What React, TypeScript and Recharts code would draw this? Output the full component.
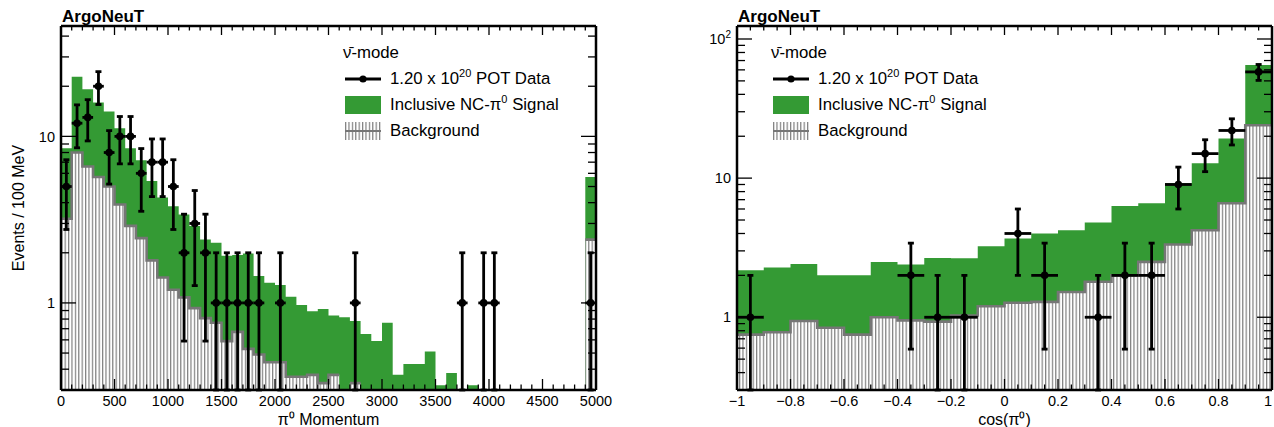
import React from "react";
import { ComposedChart, Area, Scatter, ErrorBar, XAxis, YAxis, Legend, Label } from "recharts";

const FONT = '"Liberation Sans", Arial, Helvetica, sans-serif';
const GREEN = "#349a34";
const BG_LINE = "#767676";
const HATCH = "#7e7e7e";

// pi0 momentum: 100 MeV bins, 0 - 5000 MeV (last bin holds the overflow)
const MOM_BIN = 100;
const MOM_TOTAL = [
  8.5, 22.8, 19.2, 16.0, 14.1, 11.2, 8.5, 7.2, 5.4, 4.3,
  3.8, 3.4, 2.9, 2.4, 2.3, 1.92, 1.94, 1.98, 1.45, 1.32,
  1.28, 1.09, 0.97, 0.89, 0.92, 0.84, 0.82, 0.78, 0.65, 0.59,
  0.76, 0.37, 0.43, 0.43, 0.51, 0.32, 0.38, null, 0.32, null,
  null, null, null, null, null, null, null, null, null, 5.7,
];
const MOM_BG = [
  3.2, 8.0, 6.6, 5.7, 5.0, 3.9, 2.9, 2.45, 1.8, 1.42,
  1.2, 1.08, 0.93, 0.81, 0.76, 0.59, 0.67, 0.53, 0.49, 0.44,
  0.44, 0.36, 0.36, 0.37, 0.33, 0.37, null, 0.33, null, null,
  null, null, null, null, null, null, null, null, null, null,
  null, null, null, null, null, null, null, null, null, 2.4,
];
const MOM_DATA_X = [50, 150, 250, 350, 450, 550, 650, 750, 850, 950, 1050, 1150, 1250, 1350, 1450, 1550, 1650, 1750, 1850, 2050, 2750, 3750, 3950, 4050, 4950];
const MOM_DATA_N = [5, 12, 13, 20, 8, 10, 10, 6, 7, 7, 5, 2, 3, 2, 1, 1, 1, 1, 1, 1, 1, 1, 1, 1, 1];
const MOM_ERR_HI = [2.24, 3.46, 3.61, 4.47, 2.83, 3.16, 3.16, 2.45, 2.65, 2.65, 2.24, 1.41, 1.73, 1.41, 1, 1, 1, 1, 1, 1, 1, 1, 1, 1, 1];
const MOM_ERR_LO = [2.24, 3.46, 3.61, 4.47, 2.83, 3.16, 3.16, 2.45, 2.65, 2.65, 2.24, 1.41, 1.73, 1.41, 0.7, 0.7, 0.7, 0.7, 0.7, 0.7, 0.7, 0.7, 0.7, 0.7, 0.7];
const MOM_MAJOR = [0, 500, 1000, 1500, 2000, 2500, 3000, 3500, 4000, 4500, 5000];
const MOM_LABELS = ["0", "500", "1000", "1500", "2000", "2500", "3000", "3500", "4000", "4500", "5000"];

// cos(pi0): 0.1 bins, -1 to 1
const COS_BIN = 0.1;
const COS_TOTAL = [2.18, 2.28, 2.41, 2.0, 2.0, 2.5, 2.39, 2.67, 2.65, 3.24, 3.68, 4.0, 4.22, 4.8, 6.3, 6.6, 9.2, 12.8, 19.3, 65];
const COS_BG = [0.75, 0.78, 0.94, 0.84, 0.75, 1.0, 0.95, 0.93, 1.03, 1.2, 1.27, 1.29, 1.52, 1.8, 2.0, 2.5, 3.33, 4.22, 6.6, 24];
const COS_DATA_X = [-0.95, -0.35, -0.25, -0.15, 0.05, 0.15, 0.35, 0.45, 0.55, 0.65, 0.75, 0.85, 0.95];
const COS_DATA_N = [1, 2, 1, 1, 4, 2, 1, 2, 2, 9, 15, 22, 58];
const COS_ERR_HI = [1, 1.41, 1, 1, 2, 1.41, 1, 1.41, 1.41, 3, 3.87, 4.69, 7.6];
const COS_ERR_LO = [0.7, 1.41, 0.7, 0.7, 2, 1.41, 0.7, 1.41, 1.41, 3, 3.87, 4.69, 7.6];
const COS_MAJOR = [-1, -0.8, -0.6, -0.4, -0.2, 0, 0.2, 0.4, 0.6, 0.8, 1];
const COS_LABELS = ["\u22121", "\u22120.8", "\u22120.6", "\u22120.4", "\u22120.2", "0", "0.2", "0.4", "0.6", "0.8", "1"];

const LOG_TICKS_L = [0.4, 0.5, 0.6, 0.7, 0.8, 0.9, 1, 2, 3, 4, 5, 6, 7, 8, 9, 10, 20, 30, 40];
const LOG_TICKS_R = [0.4, 0.5, 0.6, 0.7, 0.8, 0.9, 1, 2, 3, 4, 5, 6, 7, 8, 9, 10, 20, 30, 40, 50, 60, 70, 80, 90, 100];

const CHART_W = 637;
const CHART_H = 427;

type Row = { x: number; total: number | null; bg: number | null };

function histRows(start: number, width: number, total: (number | null)[], bg: (number | null)[]): Row[] {
  const rows: Row[] = [];
  total.forEach((t, i) => {
    const lo = Math.round((start + i * width) * 1000) / 1000;
    const hi = Math.round((start + (i + 1) * width) * 1000) / 1000;
    rows.push({ x: lo, total: t, bg: bg[i] });
    rows.push({ x: hi, total: t, bg: bg[i] });
  });
  return rows;
}

function pointRows(xs: number[], ns: number[], lo: number[], hi: number[], half: number) {
  return xs.map((x, i) => ({ x, y: ns[i], ey: [lo[i], hi[i]], ex: half }));
}

function minorTicks(from: number, to: number, step: number) {
  const n = Math.round((to - from) / step);
  return Array.from({ length: n + 1 }, (_, i) => Math.round((from + i * step) * 1000) / 1000);
}

const findMajor = (v: number, majors: number[]) => majors.findIndex((m) => Math.abs(m - v) < 1e-6);

function xTickBottom(majors: number[], labels: string[]) {
  return (p: any) => {
    const idx = findMajor(p.payload.value, majors);
    const len = idx >= 0 ? 11 : 5.5;
    return (
      <g>
        <line x1={p.x} x2={p.x} y1={p.y} y2={p.y - len} stroke="#000" strokeWidth={1.3} />
        {idx >= 0 && (
          <text x={Math.min(p.x, CHART_W - 6)} y={p.y + 16} textAnchor="middle" fontSize={14.5} fill="#000">
            {labels[idx]}
          </text>
        )}
      </g>
    );
  };
}

function xTickTop(majors: number[]) {
  return (p: any) => {
    const len = findMajor(p.payload.value, majors) >= 0 ? 9 : 4.5;
    return <line x1={p.x} x2={p.x} y1={p.y} y2={p.y + len} stroke="#000" strokeWidth={1.3} />;
  };
}

function yTickLeft(majors: number[]) {
  return (p: any) => {
    const v = p.payload.value;
    const idx = findMajor(v, majors);
    const len = idx >= 0 ? 15 : 8;
    return (
      <g>
        <line x1={p.x} x2={p.x + len} y1={p.y} y2={p.y} stroke="#000" strokeWidth={1.3} />
        {idx >= 0 && (
          <text x={p.x - 6} y={p.y} dy="0.36em" textAnchor="end" fontSize={14.5} fill="#000">
            {v === 100 ? (
              <>
                10<tspan dy={-6} fontSize={10}>2</tspan>
              </>
            ) : (
              String(v)
            )}
          </text>
        )}
      </g>
    );
  };
}

function yTickRight(majors: number[]) {
  return (p: any) => {
    const len = findMajor(p.payload.value, majors) >= 0 ? 15 : 8;
    return <line x1={p.x} x2={p.x - len} y1={p.y} y2={p.y} stroke="#000" strokeWidth={1.3} />;
  };
}

function HistLegend({ hatchId }: { hatchId: string }) {
  const row: React.CSSProperties = { display: "flex", alignItems: "center", height: 26 };
  const text: React.CSSProperties = { marginLeft: 8 };
  const sup: React.CSSProperties = { fontSize: 11, verticalAlign: "super", lineHeight: 0 };
  return (
    <div style={{ fontFamily: FONT, fontSize: 16.8, color: "#000", whiteSpace: "nowrap" }}>
      <div style={row}>
        <span>{"\u03bd\u0304-mode"}</span>
      </div>
      <div style={row}>
        <svg width={37} height={26} style={{ marginLeft: 2 }}>
          <line x1={0} x2={36} y1={13} y2={13} stroke="#000" strokeWidth={3} />
          <circle cx={18} cy={13} r={3.6} fill="#000" />
        </svg>
        <span style={text}>
          1.20 x 10<span style={sup}>20</span> POT Data
        </span>
      </div>
      <div style={row}>
        <svg width={37} height={26} style={{ marginLeft: 2 }}>
          <rect x={0} y={4} width={36} height={18} fill={GREEN} />
        </svg>
        <span style={text}>
          Inclusive NC-{"\u03c0"}<span style={sup}>0</span> Signal
        </span>
      </div>
      <div style={row}>
        <svg width={37} height={26} style={{ marginLeft: 2 }}>
          <rect x={0} y={4} width={36} height={18} fill={`url(#${hatchId})`} />
          <line x1={0} x2={36} y1={13} y2={13} stroke={BG_LINE} strokeWidth={2} />
        </svg>
        <span style={text}>Background</span>
      </div>
    </div>
  );
}

interface PanelProps {
  rows: Row[];
  points: { x: number; y: number; ey: number[]; ex: number }[];
  xDomain: [number, number];
  xTicks: number[];
  xMajors: number[];
  xLabels: string[];
  yDomain: [number, number];
  yTicks: number[];
  yMajors: number[];
  yAxisWidth: number;
  marginRight: number;
  legendLeft: number;
  xTitle: string;
  yTitle?: string;
  hatchId: string;
}

function HistPanel(props: PanelProps) {
  const { rows, points, xDomain, xTicks, xMajors, xLabels, yDomain, yTicks, yMajors, yAxisWidth, marginRight, legendLeft, xTitle, yTitle, hatchId } = props;
  const frame = { stroke: "#000", strokeWidth: 2.5 };
  return (
    <ComposedChart width={CHART_W} height={CHART_H} data={rows} margin={{ top: 25, right: marginRight - 1, bottom: 0, left: 0 }}>
      <defs>
        <pattern id={hatchId} patternUnits="userSpaceOnUse" width={3.4} height={10}>
          <rect width={3.4} height={10} fill="#fff" />
          <line x1={0.6} y1={0} x2={0.6} y2={10} stroke={HATCH} strokeWidth={1.2} />
        </pattern>
      </defs>
      <XAxis
        dataKey="x"
        type="number"
        domain={xDomain}
        ticks={xTicks}
        interval={0}
        allowDataOverflow
        height={37}
        tickSize={0}
        tickMargin={0}
        tickLine={false}
        axisLine={frame}
        tick={xTickBottom(xMajors, xLabels)}
      >
        <Label value={xTitle} position="insideBottom" offset={2} fontSize={16} fill="#000" />
      </XAxis>
      <XAxis
        xAxisId="top"
        dataKey="x"
        orientation="top"
        type="number"
        domain={xDomain}
        ticks={xTicks}
        interval={0}
        allowDataOverflow
        height={1}
        tickSize={0}
        tickMargin={0}
        tickLine={false}
        axisLine={frame}
        tick={xTickTop(xMajors)}
      />
      <YAxis
        type="number"
        scale="log"
        domain={yDomain}
        ticks={yTicks}
        interval={0}
        allowDataOverflow
        width={yAxisWidth}
        tickSize={0}
        tickMargin={0}
        tickLine={false}
        axisLine={frame}
        tick={yTickLeft(yMajors)}
      >
        {yTitle && (
          <Label
            content={() => (
              <text transform="translate(18, 208) rotate(-90)" textAnchor="middle" dominantBaseline="central" fontSize={16} fill="#000">
                {yTitle}
              </text>
            )}
          />
        )}
      </YAxis>
      <YAxis
        yAxisId="right"
        dataKey="total"
        orientation="right"
        type="number"
        scale="log"
        domain={yDomain}
        ticks={yTicks}
        interval={0}
        allowDataOverflow
        width={1}
        tickSize={0}
        tickMargin={0}
        tickLine={false}
        axisLine={frame}
        tick={yTickRight(yMajors)}
      />
      <Area
        dataKey="total"
        type="linear"
        fill={GREEN}
        fillOpacity={1}
        stroke="none"
        baseValue="dataMin"
        connectNulls={false}
        dot={false}
        activeDot={false}
        isAnimationActive={false}
      />
      <Area
        dataKey="bg"
        type="linear"
        fill={`url(#${hatchId})`}
        fillOpacity={1}
        stroke={BG_LINE}
        strokeWidth={2.6}
        baseValue="dataMin"
        connectNulls={false}
        dot={false}
        activeDot={false}
        isAnimationActive={false}
      />
      <Scatter
        data={points}
        dataKey="y"
        fill="#000"
        isAnimationActive={false}
        shape={(p: any) => <circle cx={p.cx} cy={p.cy} r={3.8} fill="#000" />}
      >
        <ErrorBar dataKey="ey" direction="y" width={3} strokeWidth={2.8} stroke="#000" />
        <ErrorBar dataKey="ex" direction="x" width={0} strokeWidth={2.8} stroke="#000" />
      </Scatter>
      <Legend
        layout="horizontal"
        verticalAlign="middle"
        align="center"
        wrapperStyle={{ left: legendLeft, top: 40, width: "auto" }}
        content={() => <HistLegend hatchId={hatchId} />}
      />
    </ComposedChart>
  );
}

const titleStyle: React.CSSProperties = {
  position: "absolute",
  top: 7,
  fontFamily: FONT,
  fontWeight: "bold",
  fontSize: 17,
  lineHeight: "20px",
  color: "#000",
};

export default function App() {
  const momRows = histRows(0, MOM_BIN, MOM_TOTAL, MOM_BG);
  const cosRows = histRows(-1, COS_BIN, COS_TOTAL, COS_BG);
  const momPoints = pointRows(MOM_DATA_X, MOM_DATA_N, MOM_ERR_LO, MOM_ERR_HI, MOM_BIN / 2);
  const cosPoints = pointRows(COS_DATA_X, COS_DATA_N, COS_ERR_LO, COS_ERR_HI, COS_BIN / 2);

  return (
    <div style={{ position: "absolute", left: 0, top: 0, width: 1274, height: 427, background: "#fff", fontFamily: FONT, overflow: "hidden" }}>
      <div style={{ position: "absolute", left: 0, top: 0 }}>
        <HistPanel
          rows={momRows}
          points={momPoints}
          xDomain={[0, 5000]}
          xTicks={minorTicks(0, 5000, 100)}
          xMajors={MOM_MAJOR}
          xLabels={MOM_LABELS}
          yDomain={[0.3, 46]}
          yTicks={LOG_TICKS_L}
          yMajors={[1, 10]}
          yAxisWidth={61}
          marginRight={41}
          legendLeft={343}
          xTitle={"\u03c0\u2070 Momentum"}
          yTitle="Events / 100 MeV"
          hatchId="hatch-mom"
        />
      </div>
      <div style={{ position: "absolute", left: 637, top: 0 }}>
        <HistPanel
          rows={cosRows}
          points={cosPoints}
          xDomain={[-1, 1]}
          xTicks={minorTicks(-1, 1, 0.05)}
          xMajors={COS_MAJOR}
          xLabels={COS_LABELS}
          yDomain={[0.3, 124]}
          yTicks={LOG_TICKS_R}
          yMajors={[1, 10, 100]}
          yAxisWidth={100}
          marginRight={2}
          legendLeft={134}
          xTitle={"cos(\u03c0\u2070)"}
          hatchId="hatch-cos"
        />
      </div>
      <div style={{ ...titleStyle, left: 62 }}>ArgoNeuT</div>
      <div style={{ ...titleStyle, left: 738 }}>ArgoNeuT</div>
    </div>
  );
}
